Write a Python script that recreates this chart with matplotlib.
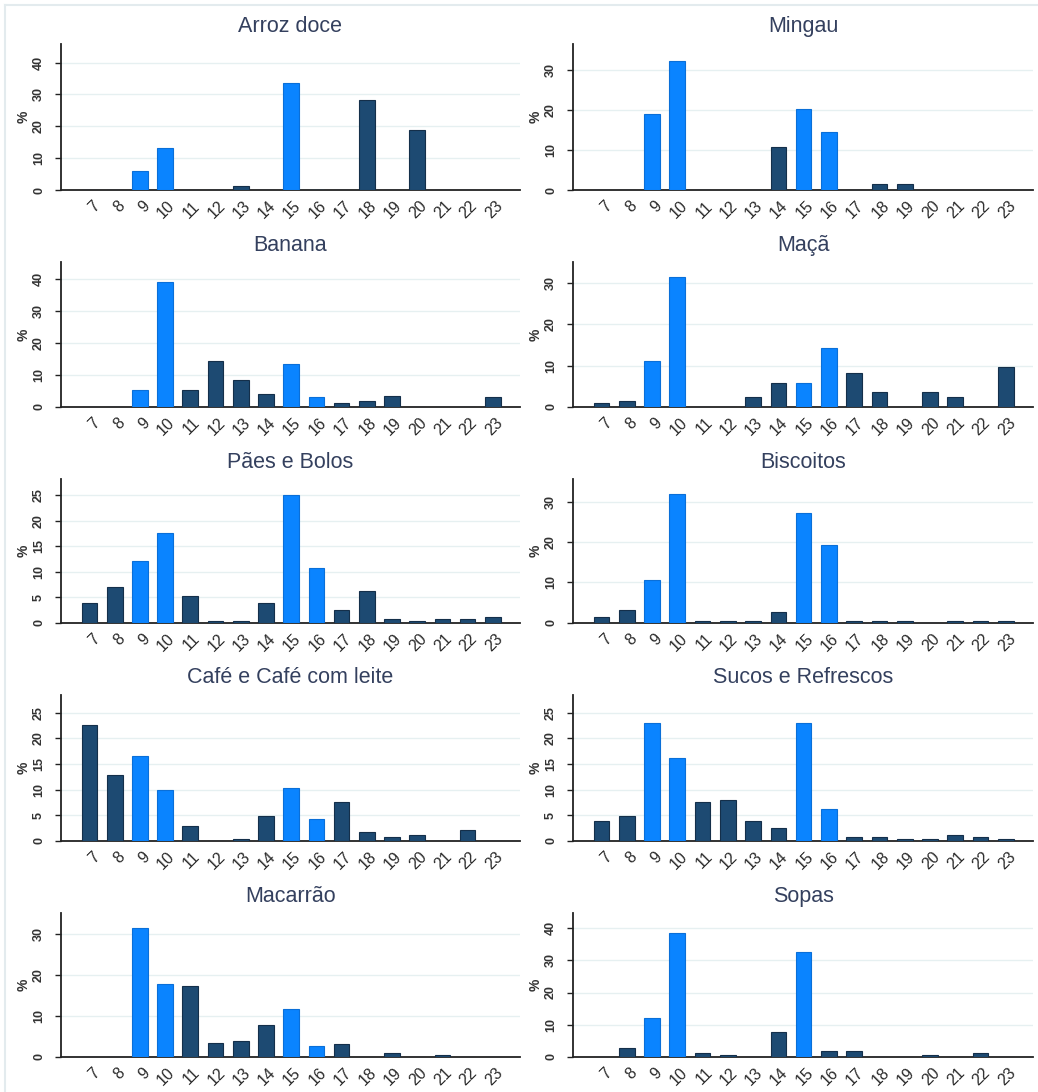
import matplotlib
matplotlib.use("Agg")
import matplotlib.pyplot as plt
from matplotlib.lines import Line2D

plt.rcParams['font.family'] = ['Liberation Sans', 'DejaVu Sans']

# horas do dia
hours = list(range(7, 24))

# % por hora
arroz_doce = [0, 0, 6.1, 13.3, 0, 0, 1.2, 0, 33.6, 0, 0, 28.2, 0, 18.8, 0, 0, 0]
mingau = [0, 0, 19.1, 32.4, 0, 0, 0, 10.7, 20.4, 14.6, 0, 1.4, 1.4, 0, 0, 0, 0]
banana = [0, 0, 5.2, 39.1, 5.1, 14.3, 8.4, 3.9, 13.3, 2.9, 1.2, 1.9, 3.4, 0, 0, 0, 2.9]
maca = [1.0, 1.5, 11.2, 31.5, 0, 0, 2.3, 5.8, 5.8, 14.3, 8.3, 3.6, 0, 3.6, 2.3, 0, 9.6]
paes_bolos = [3.8, 7.0, 12.2, 17.7, 5.25, 0.4, 0.4, 3.8, 25.0, 10.8, 2.4, 6.3, 0.7, 0.4, 0.7, 0.7, 1.05]
biscoitos = [1.3, 3.1, 10.6, 32.0, 0.4, 0.4, 0.4, 2.65, 27.2, 19.3, 0.4, 0.4, 0.4, 0, 0.4, 0.4, 0.4]
cafe = [22.7, 12.8, 16.5, 10.0, 2.8, 0, 0.3, 4.8, 10.35, 4.2, 7.6, 1.75, 0.8, 1.1, 0, 2.1, 0]
sucos = [3.8, 4.9, 23.1, 16.2, 7.55, 7.9, 3.8, 2.4, 23.1, 6.25, 0.8, 0.8, 0.35, 0.35, 1.1, 0.8, 0.35]
macarrao = [0, 0, 31.4, 17.7, 17.2, 3.4, 3.9, 7.7, 11.65, 2.6, 3.0, 0, 0.8, 0, 0.4, 0, 0]
sopas = [0, 2.8, 12.1, 38.5, 1.0, 0.5, 0, 7.7, 32.5, 1.7, 1.7, 0, 0, 0.5, 0, 1.0, 0]

titles = ['Arroz doce', 'Mingau', 'Banana', 'Maçã', 'Pães e Bolos', 'Biscoitos',
          'Café e Café com leite', 'Sucos e Refrescos', 'Macarrão', 'Sopas']
series = [arroz_doce, mingau, banana, maca, paes_bolos, biscoitos, cafe, sucos, macarrao, sopas]

# horarios de lanche (barras claras)
snack_hours = [9, 10, 15, 16]
snack_hours_sopas = [9, 10, 15]

y_max = [46, 36.7, 45.2, 35.2, 28.2, 35.6, 28.6, 28.6, 35.0, 44.8]
y_step = [10, 10, 10, 10, 5, 10, 5, 5, 10, 10]
y_top_tick = [40, 30, 40, 30, 25, 30, 25, 25, 30, 40]

light = '#0a84ff'
dark = '#1d4a72'

W, H = 1038, 1092
fig = plt.figure(figsize=(W / 100, H / 100), dpi=100)

col_x = [(61, 520), (573, 1033)]
row_y = [(43.5, 190), (262, 406.7), (479, 622.7), (694.5, 840.7), (913, 1056.7)]

# moldura clara
fig.add_artist(Line2D([5 / W, 1], [1 - 5 / H, 1 - 5 / H], color='#e3ebee', lw=1.5))
fig.add_artist(Line2D([5 / W, 5 / W], [0, 1 - 5 / H], color='#e3ebee', lw=1.5))

for i, (title, vals) in enumerate(zip(titles, series)):
    r, c = divmod(i, 2)
    x0, x1 = col_x[c]
    top, bot = row_y[r]
    ax = fig.add_axes([x0 / W, 1 - bot / H, (x1 - x0) / W, (bot - top) / H])

    hl = snack_hours_sopas if title == 'Sopas' else snack_hours
    colors = [light if h in hl else dark for h in hours]
    edges = ['#0a6fd8' if h in hl else '#142f4a' for h in hours]
    ax.bar(hours, vals, width=0.62, color=colors, edgecolor=edges, linewidth=0.8, zorder=3)

    ax.set_xlim(5.87, 24.08)
    ax.set_ylim(0, y_max[i])
    ax.set_yticks(list(range(0, y_top_tick[i] + 1, y_step[i])))
    ax.set_xticks([h + 0.08 for h in hours])
    ax.set_xticklabels([str(h) for h in hours], rotation=45, ha='right',
                       rotation_mode='anchor', fontsize=11.5, color='#2a2a2a')
    for lab in ax.get_yticklabels():
        lab.set_rotation(90)
        lab.set_va('center')
        lab.set_fontsize(9)
        lab.set_fontweight('bold')
        lab.set_color('#333333')
    ax.tick_params(axis='x', length=0, pad=6)
    ax.tick_params(axis='y', length=4.5, width=1, pad=7, color='#222222')
    ax.grid(axis='y', color='#e6f0f1', lw=1, zorder=0)
    ax.set_axisbelow(True)
    for s in ['top', 'right']:
        ax.spines[s].set_visible(False)
    for s in ['left', 'bottom']:
        ax.spines[s].set_color('#222222')
        ax.spines[s].set_linewidth(1.3)
    ax.set_ylabel('%', fontsize=10, fontweight='bold', color='#333333', labelpad=2)
    ax.set_title(title, fontsize=15.5, color='#34405e', pad=8)

fig.savefig('out.png', dpi=100, facecolor='white')
